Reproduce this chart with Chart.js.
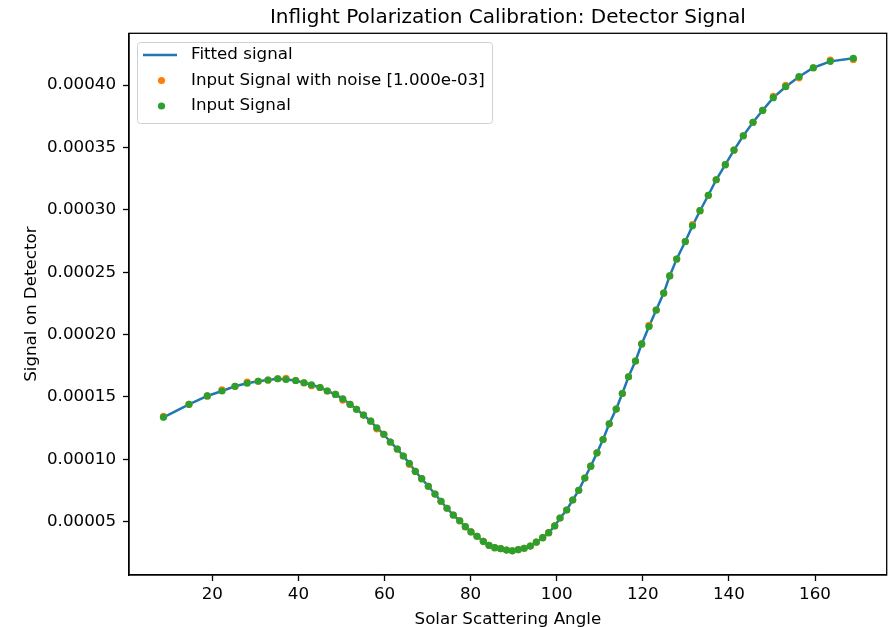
<!DOCTYPE html>
<html>
<head>
<meta charset="utf-8">
<title>Inflight Polarization Calibration</title>
<script src="https://cdn.jsdelivr.net/npm/chart.js@4.4.1/dist/chart.umd.min.js"></script>
<style>
  html, body { margin: 0; padding: 0; background: #fff; }
  canvas { display: block; }
</style>
</head>
<body>
<canvas id="signalChart" width="895" height="627"></canvas>
<script>
// solar scattering angle of each calibration sample (deg)
const angles = [8.66, 14.59, 18.84, 22.25, 25.27, 28.11, 30.66, 32.94, 35.19, 37.12,
  39.37, 41.30, 43.04, 45.02, 46.71, 48.62, 50.31, 51.99, 53.50, 55.12,
  56.79, 58.21, 59.84, 61.35, 62.97, 64.37, 65.76, 67.15, 68.64, 70.17,
  71.73, 73.12, 74.52, 75.98, 77.47, 78.77, 80.09, 81.49, 82.95, 84.27,
  85.60, 86.99, 88.34, 89.69, 91.08, 92.45, 93.87, 95.26, 96.75, 98.14,
  99.54, 100.77, 102.32, 103.72, 105.11, 106.53, 107.90, 109.36, 110.76, 112.20,
  113.82, 115.24, 116.68, 118.30, 119.74, 121.44, 123.11, 124.85, 126.25, 127.87,
  129.87, 131.54, 133.29, 135.22, 137.05, 139.16, 141.18, 143.34, 145.60, 147.85,
  150.31, 153.19, 156.28, 159.61, 163.55, 168.90];

// clean input signal on the detector
const inputSignal = [13.37e-5, 14.41e-5, 15.08e-5, 15.48e-5, 15.86e-5, 16.10e-5, 16.26e-5, 16.36e-5, 16.46e-5, 16.40e-5,
  16.32e-5, 16.14e-5, 15.98e-5, 15.76e-5, 15.48e-5, 15.20e-5, 14.85e-5, 14.41e-5, 14.01e-5, 13.55e-5,
  13.06e-5, 12.53e-5, 12.01e-5, 11.39e-5, 10.83e-5, 10.27e-5, 9.68e-5, 9.04e-5, 8.45e-5, 7.84e-5,
  7.22e-5, 6.64e-5, 6.08e-5, 5.54e-5, 5.08e-5, 4.60e-5, 4.18e-5, 3.83e-5, 3.43e-5, 3.11e-5,
  2.92e-5, 2.84e-5, 2.73e-5, 2.67e-5, 2.77e-5, 2.87e-5, 3.05e-5, 3.36e-5, 3.72e-5, 4.12e-5,
  4.66e-5, 5.30e-5, 5.94e-5, 6.74e-5, 7.52e-5, 8.50e-5, 9.45e-5, 10.52e-5, 11.59e-5, 12.85e-5,
  14.03e-5, 15.28e-5, 16.62e-5, 17.88e-5, 19.25e-5, 20.65e-5, 21.97e-5, 23.33e-5, 24.70e-5, 26.06e-5,
  27.46e-5, 28.72e-5, 29.93e-5, 31.17e-5, 32.41e-5, 33.62e-5, 34.79e-5, 35.94e-5, 37.02e-5, 37.98e-5,
  38.99e-5, 39.87e-5, 40.67e-5, 41.39e-5, 41.90e-5, 42.15e-5];

// same samples after adding noise
const noisySignal = [13.45e-5, 14.41e-5, 15.08e-5, 15.58e-5, 15.86e-5, 16.20e-5, 16.26e-5, 16.36e-5, 16.46e-5, 16.50e-5,
  16.32e-5, 16.14e-5, 15.90e-5, 15.76e-5, 15.48e-5, 15.20e-5, 14.75e-5, 14.41e-5, 14.01e-5, 13.55e-5,
  13.06e-5, 12.45e-5, 12.01e-5, 11.39e-5, 10.83e-5, 10.27e-5, 9.60e-5, 9.04e-5, 8.45e-5, 7.84e-5,
  7.22e-5, 6.64e-5, 6.08e-5, 5.54e-5, 5.08e-5, 4.60e-5, 4.18e-5, 3.83e-5, 3.43e-5, 3.11e-5,
  2.92e-5, 2.84e-5, 2.73e-5, 2.67e-5, 2.77e-5, 2.87e-5, 3.05e-5, 3.36e-5, 3.72e-5, 4.12e-5,
  4.66e-5, 5.30e-5, 5.94e-5, 6.74e-5, 7.52e-5, 8.50e-5, 9.45e-5, 10.52e-5, 11.59e-5, 12.85e-5,
  14.03e-5, 15.28e-5, 16.62e-5, 17.88e-5, 19.25e-5, 20.75e-5, 21.97e-5, 23.33e-5, 24.70e-5, 26.06e-5,
  27.46e-5, 28.82e-5, 29.93e-5, 31.17e-5, 32.41e-5, 33.62e-5, 34.79e-5, 35.94e-5, 37.02e-5, 37.98e-5,
  39.09e-5, 39.97e-5, 40.58e-5, 41.39e-5, 42.00e-5, 42.05e-5];

// fitted model evaluated at the sample angles
const fittedSignal = inputSignal.slice();

const xTicks = [20, 40, 60, 80, 100, 120, 140, 160];
const yTicks = [0.00005, 0.00010, 0.00015, 0.00020, 0.00025, 0.00030, 0.00035, 0.00040];
const yTickLabels = ['0.00005', '0.00010', '0.00015', '0.00020', '0.00025', '0.00030', '0.00035', '0.00040'];

const FONT = '"DejaVu Sans", sans-serif';
const BLUE = '#1f77b4', ORANGE = '#ff7f0e', GREEN = '#2ca02c';
const DOT = 3.6;

function toPoints(xs, ys) {
  return xs.map((x, i) => ({ x: x, y: ys[i] }));
}

// box around the axes, legend in the upper left, and the three titles
const decorations = {
  id: 'decorations',
  afterDatasetsDraw(chart) {
    const ctx = chart.ctx, a = chart.chartArea;
    ctx.save();
    ctx.strokeStyle = '#000';
    ctx.lineWidth = 1.3;
    ctx.strokeRect(a.left, a.top, a.right - a.left, a.bottom - a.top);

    // legend frame
    const bx = 137.5, by = 42.5, bw = 355, bh = 81, r = 3;
    ctx.beginPath();
    ctx.moveTo(bx + r, by);
    ctx.lineTo(bx + bw - r, by);
    ctx.arcTo(bx + bw, by, bx + bw, by + r, r);
    ctx.lineTo(bx + bw, by + bh - r);
    ctx.arcTo(bx + bw, by + bh, bx + bw - r, by + bh, r);
    ctx.lineTo(bx + r, by + bh);
    ctx.arcTo(bx, by + bh, bx, by + bh - r, r);
    ctx.lineTo(bx, by + r);
    ctx.arcTo(bx, by, bx + r, by, r);
    ctx.closePath();
    ctx.fillStyle = 'rgba(255,255,255,0.85)';
    ctx.fill();
    ctx.strokeStyle = '#d0d0d0';
    ctx.lineWidth = 1;
    ctx.stroke();

    const rows = [55, 80.5, 106];
    chart.data.datasets.forEach((ds, i) => {
      const y = rows[i];
      if (ds.showLine) {
        ctx.strokeStyle = ds.borderColor;
        ctx.lineWidth = ds.borderWidth;
        ctx.beginPath();
        ctx.moveTo(143, y);
        ctx.lineTo(177, y);
        ctx.stroke();
      } else {
        ctx.fillStyle = ds.backgroundColor;
        ctx.beginPath();
        ctx.arc(161.5, y, DOT, 0, Math.PI * 2);
        ctx.fill();
      }
      ctx.fillStyle = '#000';
      ctx.font = '16.7px ' + FONT;
      ctx.textAlign = 'left';
      ctx.textBaseline = 'middle';
      ctx.fillText(ds.label, 191, y);
    });
    ctx.restore();
  },
  afterDraw(chart) {
    const ctx = chart.ctx, a = chart.chartArea;
    const cx = (a.left + a.right) / 2;
    ctx.save();
    ctx.fillStyle = '#000';
    ctx.textAlign = 'center';
    ctx.textBaseline = 'alphabetic';
    ctx.font = '20px ' + FONT;
    ctx.fillText('Inflight Polarization Calibration: Detector Signal', cx, 23.3);
    ctx.font = '16.7px ' + FONT;
    ctx.fillText('Solar Scattering Angle', cx, 623.5);
    ctx.translate(35.5, (a.top + a.bottom) / 2);
    ctx.rotate(-Math.PI / 2);
    ctx.fillText('Signal on Detector', 0, 0);
    ctx.restore();
  }
};

const tickFont = { family: FONT, size: 16.7 };

new Chart(document.getElementById('signalChart'), {
  type: 'scatter',
  data: {
    datasets: [
      {
        label: 'Fitted signal',
        data: toPoints(angles, fittedSignal),
        showLine: true,
        borderColor: BLUE,
        borderWidth: 2.5,
        pointRadius: 0,
        tension: 0,
        order: 2
      },
      {
        label: 'Input Signal with noise [1.000e-03]',
        data: toPoints(angles, noisySignal),
        showLine: false,
        backgroundColor: ORANGE,
        borderWidth: 0,
        pointRadius: DOT,
        order: 1
      },
      {
        label: 'Input Signal',
        data: toPoints(angles, inputSignal),
        showLine: false,
        backgroundColor: GREEN,
        borderWidth: 0,
        pointRadius: DOT,
        order: 0
      }
    ]
  },
  options: {
    responsive: false,
    animation: false,
    devicePixelRatio: 1,
    layout: { padding: { left: 0, right: 8.3, top: 33.3, bottom: 0 } },
    plugins: {
      legend: { display: false },
      title: { display: false },
      tooltip: { enabled: false }
    },
    scales: {
      x: {
        type: 'linear',
        min: 0.65,
        max: 176.65,
        afterFit(scale) { scale.height = 52; },
        afterBuildTicks(scale) { scale.ticks = xTicks.map(v => ({ value: v })); },
        ticks: { font: tickFont, color: '#000', padding: 4, maxRotation: 0, autoSkip: false },
        grid: { drawOnChartArea: false, drawTicks: true, tickLength: 6, tickWidth: 1.3, tickColor: '#000' },
        border: { display: true, color: '#000', width: 1.3 }
      },
      y: {
        type: 'linear',
        min: 0.73e-5,
        max: 44.15e-5,
        afterFit(scale) { scale.width = 129; },
        afterBuildTicks(scale) { scale.ticks = yTicks.map(v => ({ value: v })); },
        ticks: {
          font: tickFont,
          color: '#000',
          padding: 7,
          autoSkip: false,
          callback: (v) => yTickLabels[yTicks.findIndex(t => Math.abs(t - v) < 1e-9)]
        },
        grid: { drawOnChartArea: false, drawTicks: true, tickLength: 6, tickWidth: 1.3, tickColor: '#000' },
        border: { display: true, color: '#000', width: 1.3 }
      }
    }
  },
  plugins: [decorations]
});
</script>
</body>
</html>
